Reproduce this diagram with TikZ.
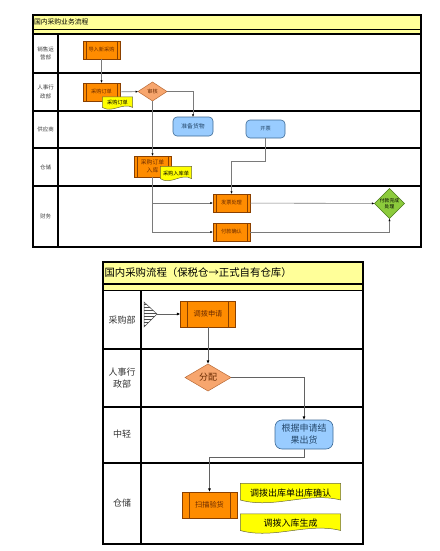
\documentclass[tikz,border=0pt]{standalone}
\usepackage{fontspec}
\setmainfont{Noto Sans CJK SC}
\usetikzlibrary{positioning}
\usetikzlibrary{arrows.meta}
\usetikzlibrary{shapes.geometric,calc,patterns}
\definecolor{procfill}{HTML}{FF8C00}
\definecolor{procedge}{HTML}{8A4000}
\definecolor{proctext}{HTML}{6A2A00}
\definecolor{chkfill}{HTML}{F7A66E}
\definecolor{chkedge}{HTML}{B86A36}
\definecolor{supfill}{HTML}{99CCFF}
\definecolor{supedge}{HTML}{3D6A96}
\definecolor{suptext}{HTML}{24476A}
\definecolor{docfill}{HTML}{FFFF00}
\definecolor{docedge}{HTML}{6B6B3A}
\definecolor{titlefill}{HTML}{FFFF99}
\definecolor{donefill}{HTML}{8CCB3C}
\definecolor{doneedge}{HTML}{4C7A1E}
\definecolor{flowgray}{HTML}{7A7A7A}

\begin{document}
\begin{tikzpicture}[x=1pt,y=-1pt,every node/.style={outer sep=0pt,inner sep=0pt,align=center},
 lanetop/.style={draw,line width=1.1pt},
 lanebot/.style={draw,line width=1.6pt},
 proc/.style={draw=procedge,fill=procfill,line width=0.5pt,text=proctext,
  path picture={\draw[procedge,line width=0.5pt]
   ([xshift=#1]path picture bounding box.north west) -- ([xshift=#1]path picture bounding box.south west)
   ([xshift=-#1]path picture bounding box.north east) -- ([xshift=-#1]path picture bounding box.south east);}},
 proc/.default=3pt,
 check/.style={diamond,draw=chkedge,fill=chkfill,line width=0.5pt,text=proctext},
 supply/.style={rounded corners=4pt,draw=supedge,fill=supfill,line width=0.6pt,text=suptext},
 doc/.style={text=black,
  path picture={\filldraw[fill=docfill,draw=docedge,line width=0.5pt]
   let \p1=(path picture bounding box.north west),\p2=(path picture bounding box.south east),
   \n1={0.13*(\y1-\y2)},\n2={(\x2-\x1)/3} in
   ({\x1+0.3pt},{\y1-0.3pt}) -- ({\x2-0.3pt},{\y1-0.3pt}) -- ({\x2-0.3pt},{\y2+\n1+0.4pt})
   .. controls ({\x2-\n2},{\y2+4.4*\n1}) and ({\x1+\n2},{\y2-2.4*\n1}) .. ({\x1+0.3pt},{\y2+\n1+0.4pt}) -- cycle;}},
 flow/.style={draw=flowgray,line width=0.6pt,-{Latex[length=2.6pt,width=2.2pt,color=black]}},
 flowbig/.style={draw=flowgray!80!black,line width=0.8pt,-{Latex[length=3.6pt,width=3pt,color=black]}},
 tiny/.style={font=\fontsize{5.2}{7.5}\selectfont},
 lblsmall/.style={font=\fontsize{5.5}{8.5}\selectfont,text=black!75},
 lblbig/.style={font=\fontsize{9}{12}\selectfont,text=black!80}]
\useasboundingbox (0,0) rectangle (439,551);

% top chart
\fill[titlefill] (33,15) rectangle (421,34);
\draw[line width=0.8pt] (33,29) -- (421,29);
\draw[lanetop] (33,15) rectangle (421,247);
\foreach \Y in {34,73,111,148,186} \draw[lanetop] (33,\Y) -- (421,\Y);
\draw[lanetop] (58,34) -- (58,247);
\node[anchor=west,font=\fontsize{6.8}{8}\selectfont] (t1) at (34,22.2) {国内采购业务流程};
\foreach \T/\Y [count=\i] in {{销售运\\营部}/53.5,{人事行\\政部}/92,{供应商}/129.5,{仓储}/167,{财务}/216.5}
 \node[lblsmall] (a\i) at (45.5,\Y) {\T};

\node[proc,tiny,minimum width=37pt,minimum height=18pt] (imp) at (101.5,50) {导入新采购};
\node[proc,tiny,minimum width=37pt,minimum height=18pt] (ord) at (101.5,92) {采购订单};
\node[doc,tiny,minimum width=31pt,minimum height=13pt] (orddoc) at (117.5,103) {采购订单};
\node[check,tiny,minimum width=29pt,minimum height=19pt] (chk) at (152.5,91.5) {审核};
\node[supply,font=\fontsize{5.8}{7}\selectfont,minimum width=40pt,minimum height=19pt] (prep) at (193,126.5) {准备货物};
\node[supply,tiny,minimum width=39pt,minimum height=18pt] (bill) at (265.5,129) {开票};
\node[proc,font=\fontsize{5.8}{7.8}\selectfont,minimum width=37pt,minimum height=21pt] (inb) at (152.5,166.5) {采购订单\\入库};
\node[doc,tiny,minimum width=32pt,minimum height=15pt] (inbdoc) at (176,173.5) {采购入库单};
\node[proc,tiny,minimum width=37pt,minimum height=18pt] (inv) at (231.5,203) {发票处理};
\node[proc,tiny,minimum width=37pt,minimum height=18pt] (pay) at (231.5,232) {付款确认};
\node[diamond,draw=doneedge,fill=donefill,line width=0.5pt,font=\fontsize{4.8}{6.5}\selectfont,
 minimum width=27pt,minimum height=25pt] (done) at (389.5,203.5) {付款完成\\处理};

\draw[flow] (imp) -- (ord);
\draw[flow] (ord) -- (chk);
\draw[flow] (chk.east) -| (prep.north);
\draw[flow] (chk.south) -- (inb.north);
\draw[flow] (bill.south) -- ++(0,23) -| (inv.north);
\draw[flow] (inb.south) |- (inv.west);
\draw[flow] (inb.south) |- (pay.west);
\draw[flow] (inv) -- (done);
\draw[flow] (pay.east) -| (done.south);

% bottom chart
\fill[titlefill] (103,262) rectangle (363,290.5);
\draw[line width=1.1pt] (103,284) -- (363,284);
\draw[lanebot] (103,262) rectangle (363,544);
\foreach \Y in {290.5,349,407,463} \draw[lanebot] (103,\Y) -- (363,\Y);
\draw[lanebot] (141,290.5) -- (141,544);
\node[anchor=west,font=\fontsize{10.4}{12}\selectfont] (t2) at (104.5,273) {国内采购流程（保税仓→正式自有仓库）};
\foreach \T/\Y [count=\i] in {{采购部}/320,{人事行\\政部}/378,{中轻}/434,{仓储}/503}
 \node[lblbig] (b\i) at (122,\Y) {\T};

\filldraw[pattern=horizontal lines,pattern color=black!70,draw=black!70,line width=0.5pt]
 (144,302) -- (157,314) -- (144,327) -- cycle;
\coordinate (go) at (157,314);
\node[proc=7pt,font=\fontsize{7.2}{9}\selectfont,minimum width=55pt,minimum height=26pt] (req) at (208,314) {调拨申请};
\node[check,font=\fontsize{9}{11}\selectfont,minimum width=46pt,minimum height=27pt] (alloc) at (208,377.5) {分配};
\node[supply,rounded corners=7pt,font=\fontsize{9}{12}\selectfont,minimum width=58pt,minimum height=29pt] (ship) at (304,434.5) {根据申请结\\果出货};
\node[proc=7pt,font=\fontsize{7.2}{9}\selectfont,minimum width=55pt,minimum height=26pt] (scan) at (209.5,505) {扫描验货};
\node[doc,font=\fontsize{9}{11}\selectfont,minimum width=101pt,minimum height=20pt] (outdoc) at (290.5,493) {调拨出库单出库确认};
\node[doc,font=\fontsize{9}{11}\selectfont,minimum width=101pt,minimum height=20pt] (indoc) at (290.5,523.5) {调拨入库生成};

\draw[flowbig] (go) -- (req);
\draw[flowbig] (req) -- (alloc);
\draw[flowbig] (alloc.east) -| (ship.north);
\draw[flowbig] (ship.south) -- ++(0,8) -| (scan.north);

\end{tikzpicture}
\end{document}
